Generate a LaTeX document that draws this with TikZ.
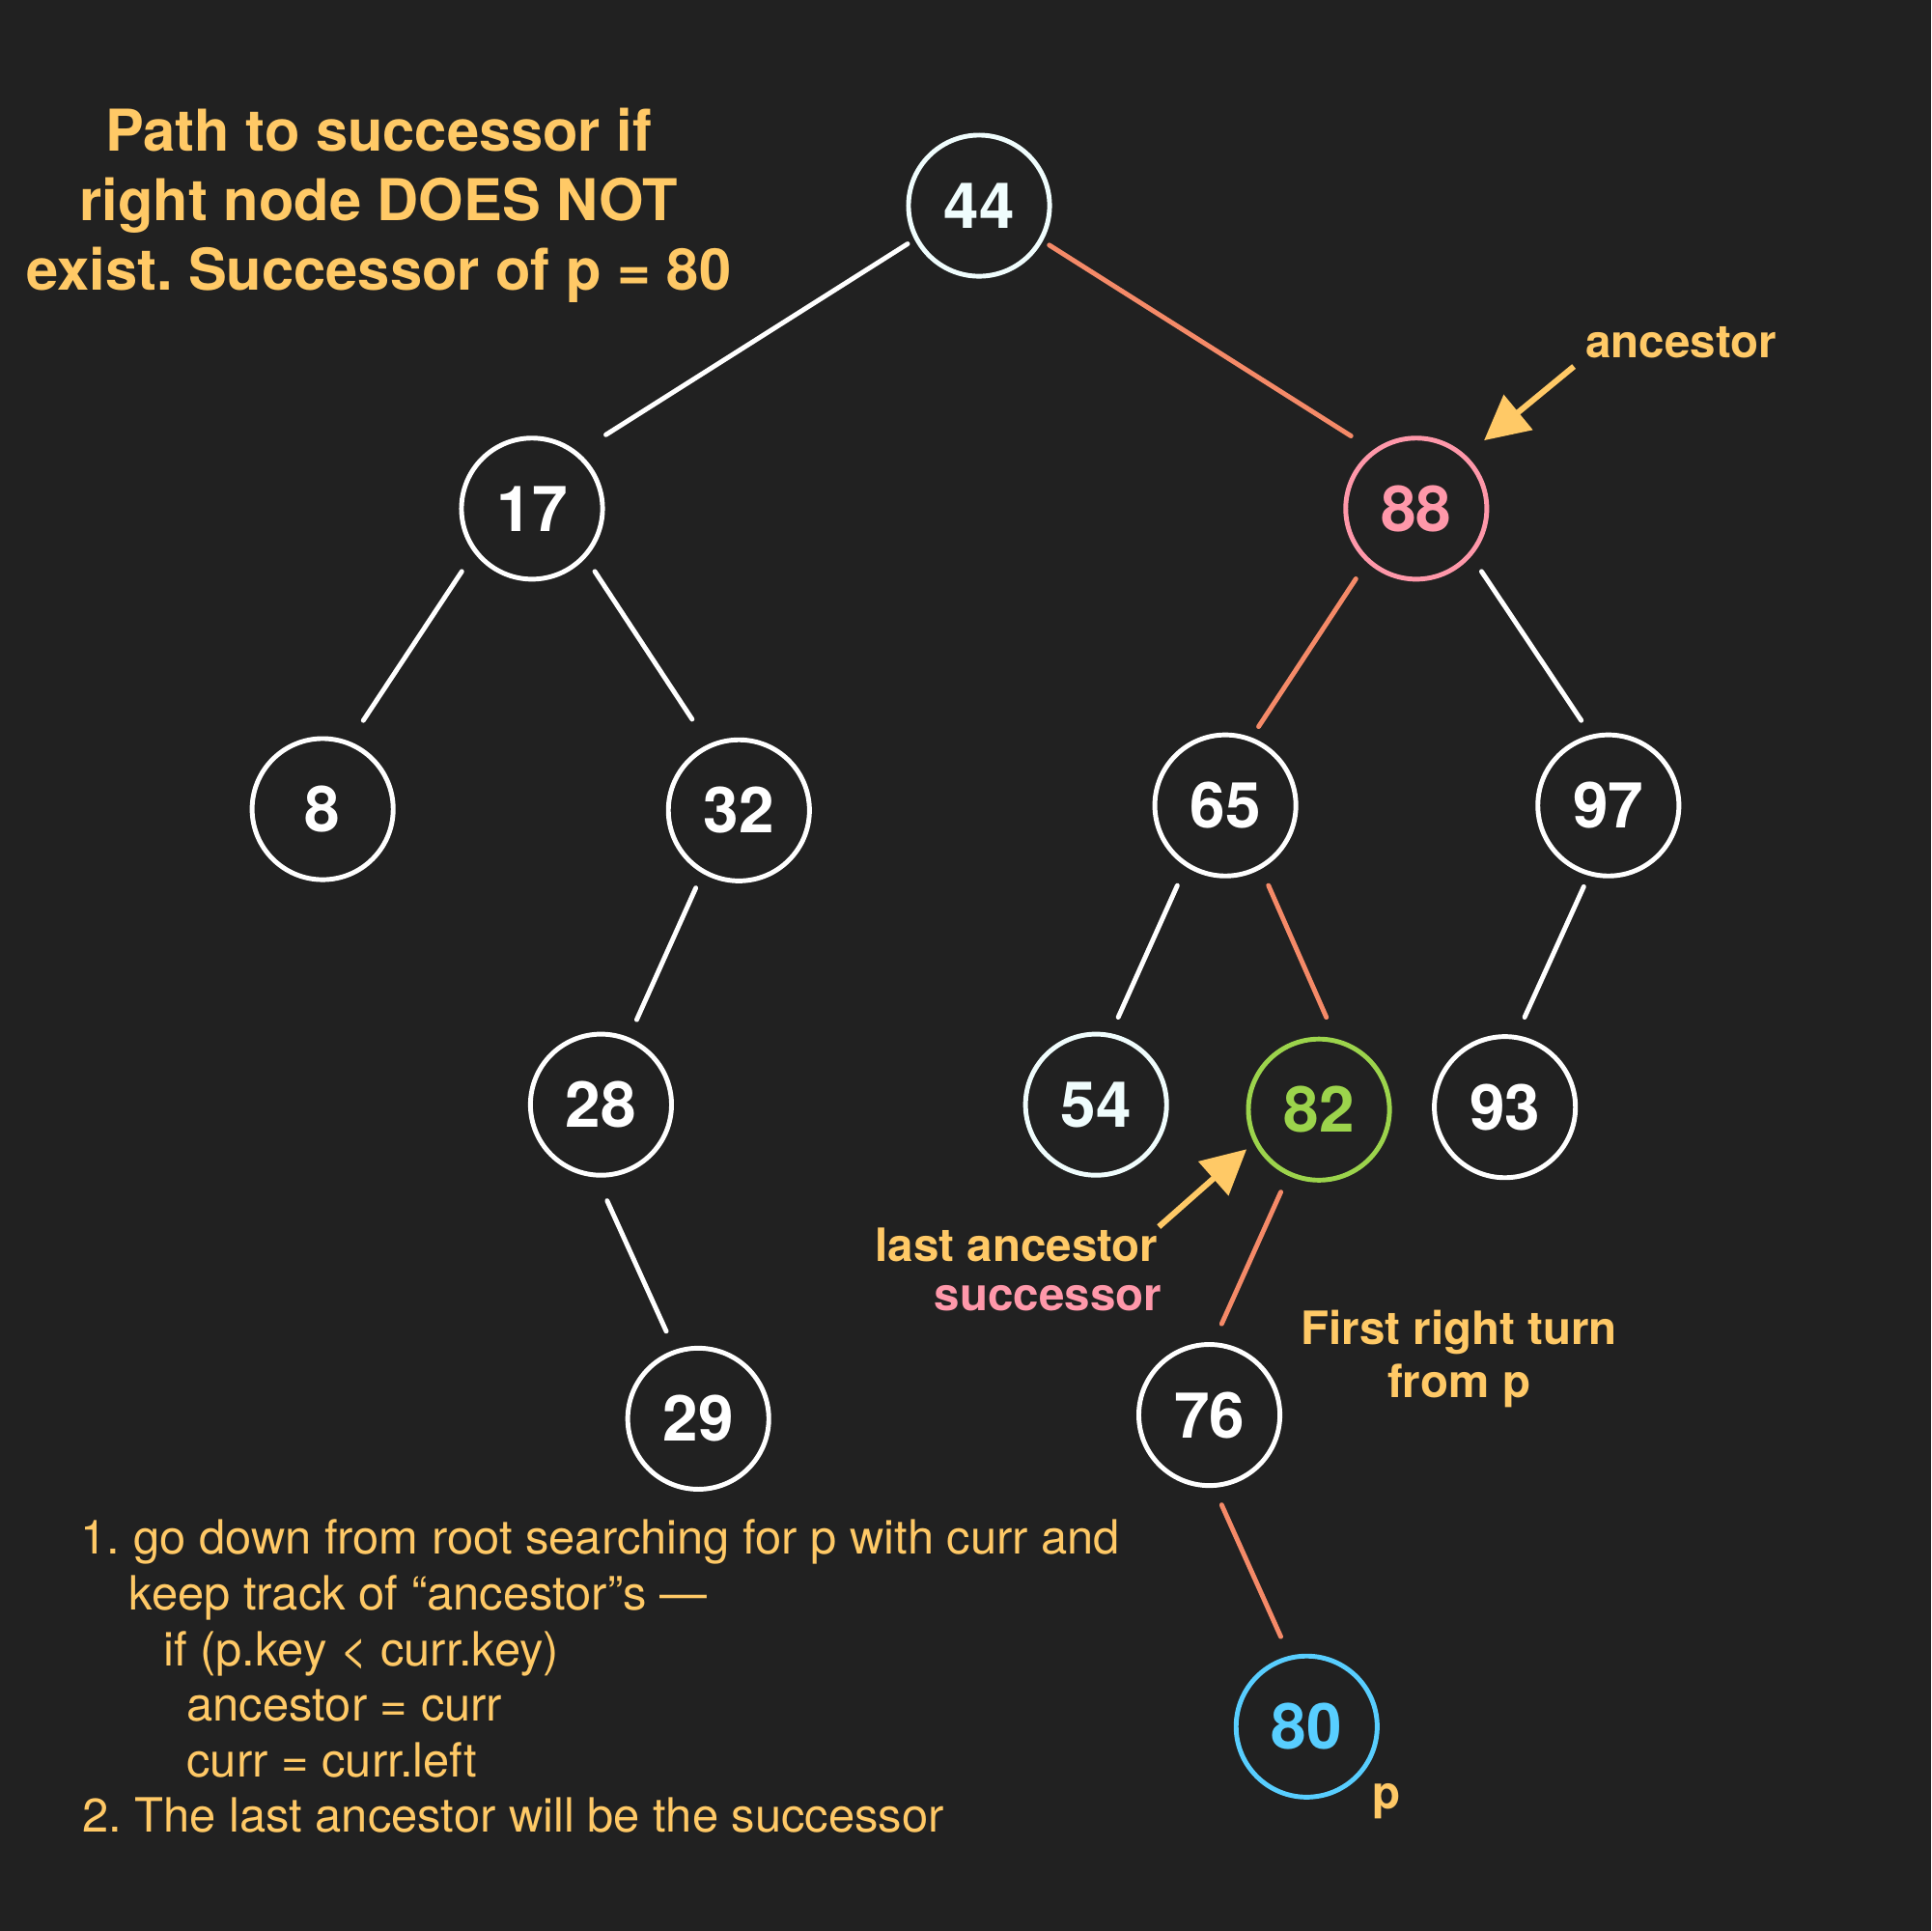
\documentclass[tikz,border=0pt]{standalone}
\usepackage{fontspec}
\setmainfont{TeX Gyre Heros}
\frenchspacing
\usetikzlibrary{arrows.meta,calc}

\definecolor{bgdark}{HTML}{212121}
\definecolor{labelyellow}{HTML}{FFC966}
\definecolor{pathsalmon}{HTML}{F58A68}
\definecolor{ancpink}{HTML}{FF98AA}
\definecolor{succgreen}{HTML}{9CD44C}
\definecolor{pblue}{HTML}{58CEFF}
\definecolor{nodewhite}{HTML}{F0FDFD}

\tikzset{
  bstnode/.style={circle, draw=white, line width=1.1pt, minimum size=1.145cm,
    inner sep=0pt, text=white, font=\fontsize{14.65}{16}\selectfont\bfseries},
  treeedge/.style={white, line width=1.1pt, line cap=round},
  pathedge/.style={treeedge, pathsalmon},
  pointer/.style={labelyellow, line width=1.35pt,
    -{Triangle[length=0.36cm, width=0.36cm]}},
  note/.style={labelyellow, inner sep=0pt,
    font=\fontsize{10.6}{12}\selectfont\bfseries},
  steptext/.style={labelyellow, inner sep=0pt, anchor=base west,
    font=\fontsize{10.9}{12.9}\selectfont}
}

\begin{document}
\begin{tikzpicture}[x=0.01cm, y=-0.01cm]
  % background, one px of the reference per unit
  \fill[bgdark] (0,0) rectangle (1568,1568);
  \useasboundingbox (0,0) rectangle (1568,1568);

  % Title
  \node[labelyellow, inner sep=0pt, anchor=north, align=center,
    font=\fontsize{13.3}{16.1}\selectfont\bfseries] (title) at (307.5,87)
    {Path to successor if\\right node DOES NOT\\exist. Successor of p = 80};

  % The tree
  \node[bstnode, draw=nodewhite, text=nodewhite] (n44) at (795,167) {44};
  \node[bstnode] (n17) at (432,413) {17};
  \node[bstnode, draw=ancpink, text=ancpink] (n88) at (1150,413) {88};
  \node[bstnode] (n8) at (262,657) {8};
  \node[bstnode] (n32) at (600,658) {32};
  \node[bstnode] (n65) at (995,654) {65};
  \node[bstnode] (n97) at (1306,654) {97};
  \node[bstnode] (n28) at (488,897) {28};
  \node[bstnode, draw=nodewhite, text=nodewhite] (n54) at (890,897) {54};
  \node[bstnode, draw=succgreen, text=succgreen] (n82) at (1071,901) {82};
  \node[bstnode] (n93) at (1222,899) {93};
  \node[bstnode] (n29) at (567,1152) {29};
  \node[bstnode] (n76) at (982,1149) {76};
  \node[bstnode, draw=pblue, text=pblue] (n80) at (1061,1402) {80};

  % Edges, the path to p in salmon
  \draw[treeedge] ($(n44)+(-58,31)$) -- ($(n17)+(60,-60)$);
  \draw[pathedge] ($(n44)+(57,32)$) -- ($(n88)+(-53,-59)$);
  \draw[treeedge] ($(n17)+(-57,51)$) -- ($(n8)+(33,-72)$);
  \draw[treeedge] ($(n17)+(51,51)$) -- ($(n32)+(-38,-74)$);
  \draw[pathedge] ($(n88)+(-49,57)$) -- ($(n65)+(27,-64)$);
  \draw[treeedge] ($(n88)+(53,51)$) -- ($(n97)+(-22,-69)$);
  \draw[treeedge] ($(n32)+(-35,63)$) -- ($(n28)+(29,-69)$);
  \draw[treeedge] ($(n65)+(-39,65)$) -- ($(n54)+(18,-71)$);
  \draw[pathedge] ($(n65)+(35,65)$) -- ($(n82)+(6,-75)$);
  \draw[treeedge] ($(n97)+(-20,66)$) -- ($(n93)+(16,-73)$);
  \draw[treeedge] ($(n28)+(5,78)$) -- ($(n29)+(-26,-71)$);
  \draw[pathedge] ($(n82)+(-31,67)$) -- ($(n76)+(10,-74)$);
  \draw[pathedge] ($(n76)+(10,73)$) -- ($(n80)+(-21,-73)$);

  % Labels
  \node[note, anchor=base west] (lblanc) at (1287,290.5) {ancestor};
  \node[note, anchor=base east] (lbllast) at (941,1024) {last ancestor};
  \node[note, anchor=base east, text=ancpink] (lblsucc) at (944,1064.5) {successor};
  \node[note, anchor=base] (lblturn) at (1184.7,1091.5) {First right turn};
  \node[note, anchor=base] (lblfrom) at (1184.7,1135) {from p};
  \node[note, anchor=base] (lblp) at (1126,1469) {p};

  % Pointers
  \draw[pointer, shorten >=0.19cm] ([shift={(-9,6)}]lblanc.south west) -- (n88.47);
  \draw[pointer, shorten >=0.08cm] (lbllast.north east) -- (n82.207);

  % Steps
  \foreach \ix/\yy/\txt in {65/1262/{1. go down from root searching for p with curr and},
      104/1307.2/{keep track of “ancestor”s —},
      132/1352.4/{if (p.key < curr.key)},
      151/1397.6/{ancestor = curr},
      151/1442.8/{curr = curr.left},
      66/1488/{2. The last ancestor will be the successor}}
    \node[steptext] at (\ix,\yy) {\txt};
\end{tikzpicture}
\end{document}
